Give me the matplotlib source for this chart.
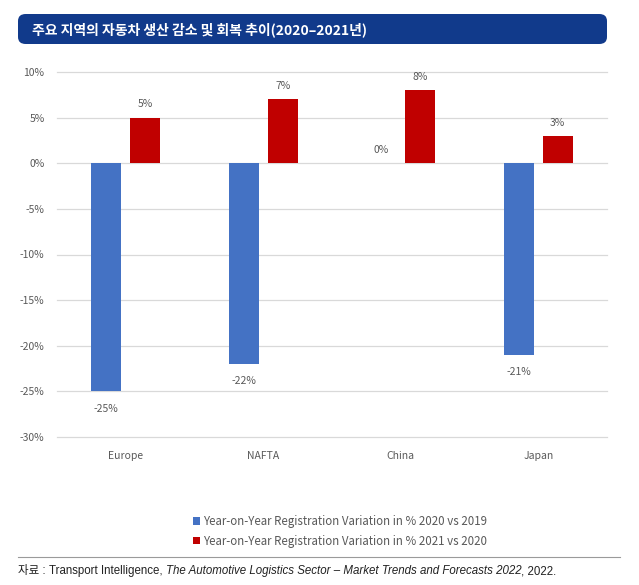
import matplotlib
matplotlib.use("Agg")
import matplotlib.pyplot as plt
from matplotlib.patches import FancyBboxPatch, Patch
from matplotlib.lines import Line2D
import numpy as np

plt.rcParams['font.family'] = ['Noto Sans CJK KR', 'DejaVu Sans']

title = '주요 지역의 자동차 생산 감소 및 회복 추이(2020–2021년)'
regions = ['Europe', 'NAFTA', 'China', 'Japan']
var_2020 = [-25, -22, 0, -21]
var_2021 = [5, 7, 8, 3]
series_names = ['Year-on-Year Registration Variation in % 2020 vs 2019',
                'Year-on-Year Registration Variation in % 2021 vs 2020']
yticks = [10, 5, 0, -5, -10, -15, -20, -25, -30]

BLUE = '#4472C4'
RED = '#C00000'
GRAY = '#595959'

W, H = 639, 585
fig = plt.figure(figsize=(W / 100, H / 100), dpi=100)

# title bar
box = FancyBboxPatch((18 / W, 1 - 44 / H), (607 - 18) / W, 30 / H,
                     boxstyle='round,pad=0,rounding_size=0.012',
                     transform=fig.transFigure, facecolor='#113A8B', edgecolor='none')
fig.patches.append(box)
fig.text(32 / W, 1 - 29.5 / H, title, color='white', fontsize=10, fontweight='bold',
         va='center', ha='left')

ax = fig.add_axes([57 / W, 1 - 437 / H, (607 - 57) / W, (437 - 72) / H])
x = np.arange(len(regions))
bw = 0.22
off = 0.142
ax.bar(x - off, var_2020, bw, color=BLUE, zorder=3)
ax.bar(x + off, var_2021, bw, color=RED, zorder=3)

ax.set_xlim(-0.5, 3.5)
ax.set_ylim(-30, 10)
ax.set_yticks(yticks)
ax.set_yticklabels([f'{t}%' for t in yticks])
ax.grid(axis='y', color='#d9d9d9', linewidth=0.9, zorder=0)
for gl in ax.get_ygridlines():
    gl.set_clip_on(False)
for s in ax.spines.values():
    s.set_visible(False)
ax.tick_params(axis='y', length=0, pad=9, labelsize=7.5, labelcolor=GRAY)
ax.set_xticks(x)
ax.set_xticklabels(regions)
ax.tick_params(axis='x', length=0, pad=10, labelsize=7.5, labelcolor=GRAY)

for xi, v in zip(x - off, var_2020):
    if v < 0:
        ax.annotate(f'{v}%', (xi, v), xytext=(0, -9), textcoords='offset points',
                    ha='center', va='top', fontsize=7.5, color=GRAY)
    else:
        ax.annotate(f'{v}%', (xi, v), xytext=(0, 6), textcoords='offset points',
                    ha='center', va='bottom', fontsize=7.5, color=GRAY)
for xi, v in zip(x + off, var_2021):
    ax.annotate(f'{v}%', (xi, v), xytext=(0, 6), textcoords='offset points',
                ha='center', va='bottom', fontsize=7.5, color=GRAY)

handles = [Patch(facecolor=BLUE), Patch(facecolor=RED)]
fig.legend(handles, series_names, loc='center', bbox_to_anchor=(340 / W, 1 - 531.5 / H),
           frameon=False, fontsize=8.3, labelcolor=GRAY, handlelength=0.65, handleheight=0.65,
           handletextpad=0.3, labelspacing=0.55, ncol=1)

# bottom rule
fig.add_artist(Line2D([18 / W, 620 / W], [1 - 557 / H, 1 - 557 / H], color='#9a9a9a',
                      linewidth=0.8, transform=fig.transFigure))

# source line with italic part
parts = [('자료 : ', 'normal'), ('Transport Intelligence, ', 'normal'),
         ('The Automotive Logistics Sector – Market Trends and Forecasts 2022', 'italic'),
         (', 2022.', 'normal')]
fig.canvas.draw()
r = fig.canvas.get_renderer()
xp = 18
for txt, style in parts:
    t = fig.text(xp / W, 1 - 571 / H, txt, fontsize=8.3, style=style, color='#222222',
                 va='center', ha='left', family=['Liberation Sans', 'Noto Sans CJK KR', 'DejaVu Sans'])
    bb = t.get_window_extent(renderer=r)
    xp += bb.width

fig.savefig('out.png', dpi=100)
